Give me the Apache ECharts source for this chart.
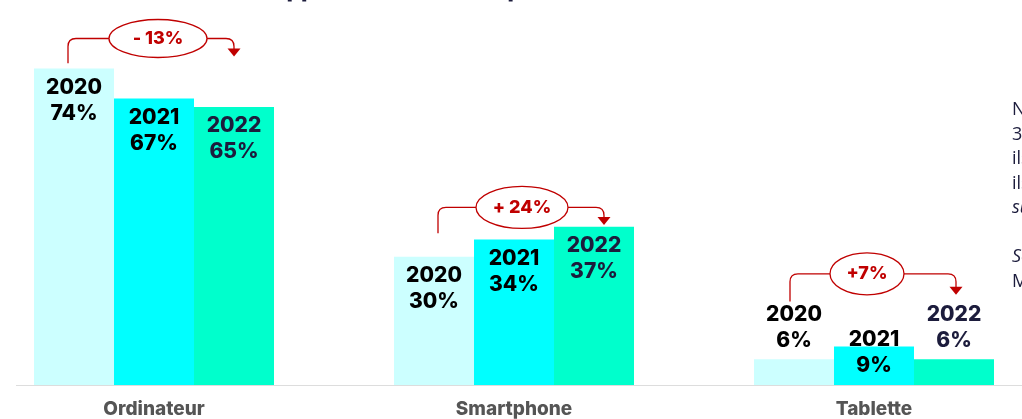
<!DOCTYPE html>
<html><head><meta charset="utf-8">
<script src="https://cdn.jsdelivr.net/npm/echarts@6/dist/echarts.min.js"></script>
<style>html,body{margin:0;padding:0;background:#fff;overflow:hidden;width:1022px;height:419px}#c{position:absolute;left:-26px;top:0;width:1080px;height:419px}</style>
</head><body><div id="c"></div>
<script>
// ---- data ----
const categories = ['Ordinateur', 'Smartphone', 'Tablette'];
const years = ['2020', '2021', '2022'];
const values2020 = [74, 30, 6];
const values2021 = [67, 34, 9];
const values2022 = [65, 37, 6];
const changes = ['- 13%', '+ 24%', '+7%'];
const titleText = 'Terminal utilisé sur les applications numériques';
const noteLines = ['Note : en 2022,', '34 % des internautes', 'ils utilisent', 'ils consultent', 'sur smartphone', '', 'Source : enquête', 'Médiamétrie'];

// ---- styles / layout ----
const OFF = 26; // the chart canvas starts 26px left of the page
const colors = ['#ccffff', '#00ffff', '#00ffcc'];
const labelColors = ['#000000', '#000000', '#1c1c3c'];
const red = '#c00000';
const tabletteLabel = [
  { position: 'top', distance: 6 },
  { position: 'insideTop', distance: 6, offset: [0, -26] },
  { position: 'top', distance: 6 }
];
const annoLayout = [
  { level: 81, start: 75.2, tip: 76.8, dx: 4, dx0: -6, dx1: 0, rx: 49, ry: 19 },
  { level: 41.5, start: 35.5, tip: 37.4, dx: 8, dx0: 4, dx1: 10, rx: 46, ry: 21 },
  { level: 26, start: 19.5, tip: 21.1, dx: -7, dx0: -4, dx1: 2, rx: 37, ry: 21 }
];

const seriesValues = [values2020, values2021, values2022];
const GAP = 1 / 3;

const chart = echarts.init(document.getElementById('c'), null, { renderer: 'canvas' });

const barSeries = seriesValues.map((vals, s) => ({
  type: 'bar',
  name: years[s],
  barGap: '0%',
  barCategoryGap: (GAP * 100) + '%',
  itemStyle: { color: colors[s] },
  label: {
    show: true,
    position: 'insideTop',
    distance: 6,
    formatter: p => years[p.seriesIndex] + '\n' + p.value + '%',
    fontFamily: 'Inter',
    fontWeight: 800,
    fontSize: 21,
    lineHeight: 26,
    color: labelColors[s]
  },
  data: vals.map((v, i) => i === 2 ? { value: v, label: tabletteLabel[s] } : v),
  z: 2
}));

const annoSeries = {
  type: 'custom',
  silent: true,
  z: 5,
  clip: false,
  data: changes.map((t, i) => [i, 0]),
  renderItem(params, api) {
    const i = params.dataIndex;
    const L = annoLayout[i];
    const c = api.coord([i, 0]);
    const cw = api.size([1, 0])[0];
    const bw = cw * (1 - GAP) / 3;
    const x0 = c[0] - bw + L.dx0;
    const x1 = c[0] + bw + L.dx1;
    const yStart = api.coord([i, L.start])[1];
    const yLine = api.coord([i, L.level])[1];
    const yTip = api.coord([i, L.tip])[1];
    const ex = c[0] + L.dx;
    const r = 8;
    const ah = 8, aw = 6.5;
    const left = `M${x0},${yStart} L${x0},${yLine + r} Q${x0},${yLine} ${x0 + r},${yLine} L${ex - L.rx},${yLine}`;
    const right = `M${ex + L.rx},${yLine} L${x1 - r},${yLine} Q${x1},${yLine} ${x1},${yLine + r} L${x1},${yTip - ah + 1}`;
    return {
      type: 'group',
      children: [
        { type: 'path', shape: { pathData: left + ' ' + right }, style: { stroke: red, lineWidth: 1.3, fill: null } },
        { type: 'ellipse', shape: { cx: ex, cy: yLine, rx: L.rx, ry: L.ry }, style: { stroke: red, lineWidth: 1.3, fill: '#fff' } },
        { type: 'polygon', shape: { points: [[x1 - aw, yTip - ah], [x1 + aw, yTip - ah], [x1, yTip]] }, style: { fill: red } },
        { type: 'text', style: { x: ex, y: yLine, text: changes[i], align: 'center', verticalAlign: 'middle', fill: red, font: '800 18px Inter' } }
      ]
    };
  }
};

chart.setOption({
  animation: false,
  grid: { left: 0, right: 0, top: 0, bottom: 33, containLabel: false },
  xAxis: {
    type: 'category',
    data: categories,
    axisLine: { show: false },
    axisTick: { show: false },
    axisLabel: { color: '#555555', fontFamily: 'Inter', fontWeight: 800, fontSize: 19, margin: 15 }
  },
  yAxis: { type: 'value', min: 0, max: 90, show: false, splitLine: { show: false } },
  series: [...barSeries, annoSeries]
});

const y0 = chart.convertToPixel({ yAxisIndex: 0 }, 0);
const graphics = [
  { type: 'line', shape: { x1: 16 + OFF, y1: y0 + 0.5, x2: 1022 + OFF, y2: y0 + 0.5 }, style: { stroke: '#dddddd', lineWidth: 1 }, z: 1 },
  { type: 'text', x: 12 + OFF, y: 1.5, style: { text: titleText, font: '800 23px Inter', fill: '#1c1c3c', verticalAlign: 'bottom' } }
];
noteLines.forEach((t, k) => {
  if (!t) return;
  const italic = (k === 4 || k === 6);
  graphics.push({ type: 'text', x: 1012 + OFF, y: 110 + k * 24.5, style: { text: t, font: (italic ? 'italic ' : '') + '18px "Open Sans"', fill: '#1c1c3c', verticalAlign: 'middle' } });
});
chart.setOption({ graphic: graphics });
</script></body></html>
